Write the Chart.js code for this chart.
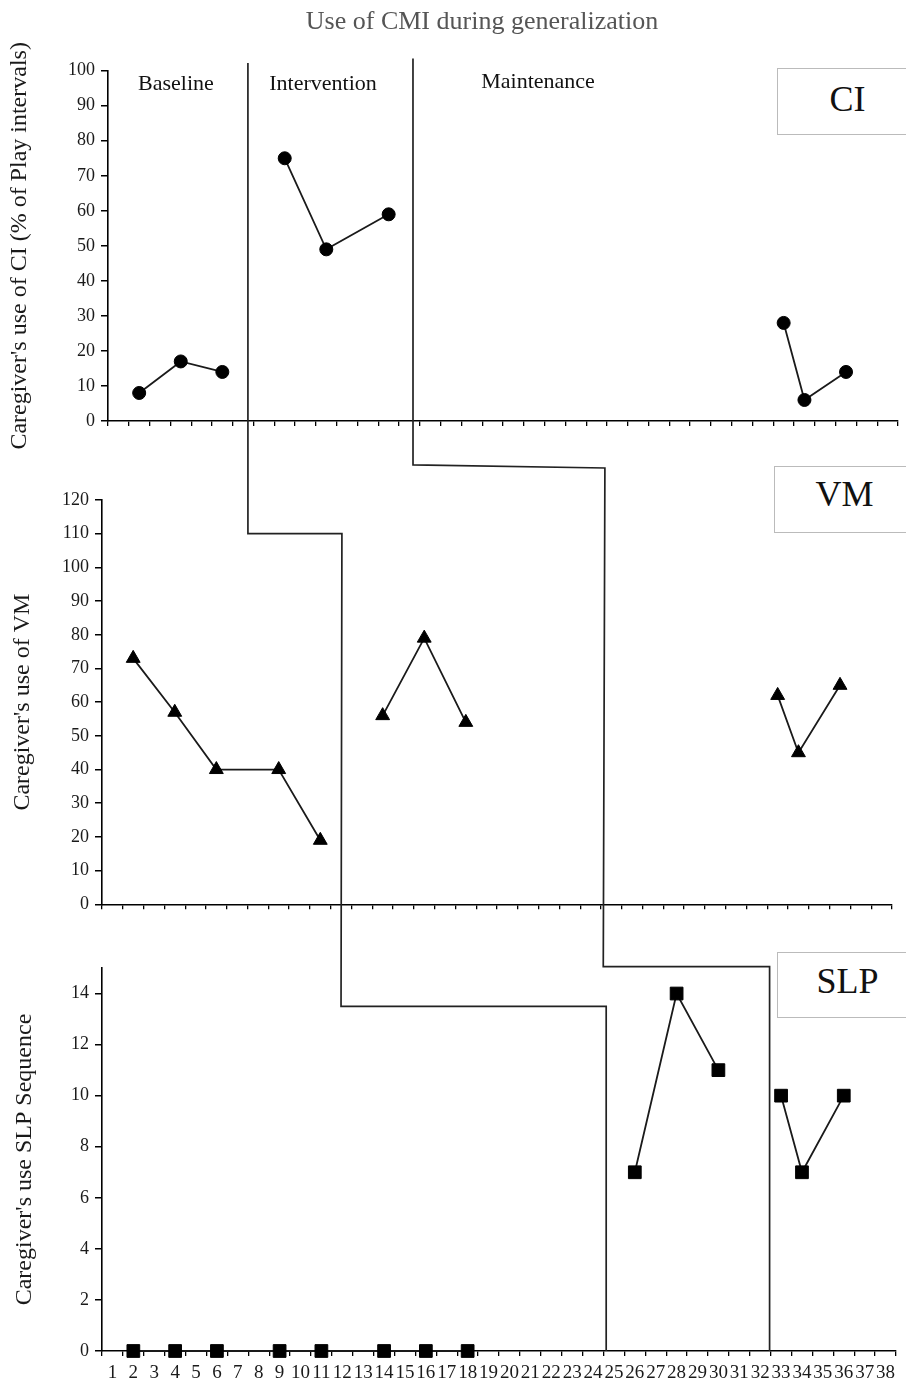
<!DOCTYPE html>
<html>
<head>
<meta charset="utf-8">
<script src="https://cdn.jsdelivr.net/npm/chart.js@4.4.1/dist/chart.umd.min.js"></script>
<style>
  html, body { margin: 0; padding: 0; background: #fff; }
  body { width: 906px; height: 1382px; position: relative; overflow: hidden; font-family: "Liberation Serif", serif; }
  canvas { position: absolute; left: 0; top: 0; }
  .note { position: absolute; white-space: nowrap; color: #111; text-align: center; }
  .title { left: 0; width: 964px; top: 6px; font-size: 26px; line-height: 30px; color: #555; }
  .phase { width: 200px; font-size: 22px; line-height: 26px; }
  .box { position: absolute; border: 1.5px solid #bbb; border-right: none; background: #fff;
         width: 140px; font-size: 36px; text-align: center; box-sizing: border-box; color: #111; }
</style>
</head>
<body>
<canvas id="ciChart" width="906" height="1382"></canvas>
<canvas id="vmChart" width="906" height="1382"></canvas>
<canvas id="slpChart" width="906" height="1382"></canvas>

<div class="note title">Use of CMI during generalization</div>
<div class="note phase" style="left:76px; top:70px;">Baseline</div>
<div class="note phase" style="left:223px; top:70px;">Intervention</div>
<div class="note phase" style="left:438px; top:68px;">Maintenance</div>
<div class="box" style="left:777px; top:68px; height:67px; line-height:60px;">CI</div>
<div class="box" style="left:774px; top:466px; height:67px; line-height:54px;">VM</div>
<div class="box" style="left:777px; top:952px; height:66px; line-height:56px;">SLP</div>

<script>
const sessions = ['1', '2', '3', '4', '5', '6', '7', '8', '9', '10',
  '11', '12', '13', '14', '15', '16', '17', '18', '19', '20',
  '21', '22', '23', '24', '25', '26', '27', '28', '29', '30',
  '31', '32', '33', '34', '35', '36', '37', '38'];

// CI (% of play intervals)
const ciBaseX = [2, 4, 6];
const ciBaseY = [8, 17, 14];
const ciInterX = [9, 11, 14];
const ciInterY = [75, 49, 59];
const ciMaintX = [33, 34, 36];
const ciMaintY = [28, 6, 14];

// VM
const vmBaseX = [2, 4, 6, 9, 11];
const vmBaseY = [73, 57, 40, 40, 19];
const vmInterX = [14, 16, 18];
const vmInterY = [56, 79, 54];
const vmMaintX = [33, 34, 36];
const vmMaintY = [62, 45, 65];

// SLP sequence
const slpBaseX = [2, 4, 6, 9, 11, 14, 16, 18];
const slpBaseY = [0, 0, 0, 0, 0, 0, 0, 0];
const slpInterX = [26, 28, 30];
const slpInterY = [7, 14, 11];
const slpMaintX = [33, 34, 36];
const slpMaintY = [10, 7, 10];

// phase change lines: [panel, session position, value on that panel's axis]
const phaseLineA = [
  ['ci', 7.23, 102.2], ['vm', 7.52, 110], ['vm', 12.04, 110],
  ['slp', 11.94, 13.5], ['slp', 24.63, 13.5], ['slp', 24.63, 0]
];
const phaseLineB = [
  ['ci', 15.17, 103.5], ['vm', 15.46, 130.4], ['vm', 24.69, 129.5],
  ['slp', 24.49, 15.05], ['slp', 32.45, 15.05], ['slp', 32.45, 0]
];

const FONT = 'Liberation Serif';
const charts = {};

function series(xs, ys, style, radius) {
  return {
    data: xs.map((x, i) => ({ x: String(x), y: ys[i] })),
    borderColor: '#1a1a1a',
    borderWidth: 1.8,
    pointStyle: style,
    pointRadius: radius,
    pointBackgroundColor: '#000',
    pointBorderColor: '#000',
    pointBorderWidth: 1,
    tension: 0,
    fill: false,
    clip: false
  };
}

function yAxis(max, step, title, titlePad, width) {
  return {
    min: 0,
    max: max,
    border: { color: '#000', width: 1.6 },
    grid: { drawOnChartArea: false, tickLength: 7, color: '#000', lineWidth: 1.5 },
    ticks: { stepSize: step, includeBounds: false, padding: 6, color: '#1a1a1a', font: { family: FONT, size: 18 } },
    title: { display: true, text: title, color: '#1a1a1a', padding: { top: titlePad, bottom: 0 }, font: { family: FONT, size: 24 } },
    afterFit: s => { s.width = width; }
  };
}

function xAxis(showLabels, height) {
  return {
    type: 'category',
    offset: true,
    border: { color: '#000', width: 1.6 },
    grid: { offset: true, drawOnChartArea: false, tickLength: 5, color: '#000', lineWidth: 1.3 },
    ticks: { display: showLabels, autoSkip: false, maxRotation: 0, minRotation: 0, padding: 6, color: '#1a1a1a', font: { family: FONT, size: 19 } },
    afterFit: s => { s.height = height; }
  };
}

function baseOptions(pad, x, y) {
  return {
    responsive: false,
    animation: false,
    devicePixelRatio: 1,
    events: [],
    layout: { padding: pad },
    plugins: { legend: { display: false }, tooltip: { enabled: false } },
    scales: { x: x, y: y }
  };
}

const phaseLinePlugin = {
  id: 'phaseLines',
  afterDraw(chart) {
    if (!charts.ci || !charts.vm) return;
    const ctx = chart.ctx;
    ctx.save();
    ctx.strokeStyle = '#222';
    ctx.lineWidth = 1.7;
    [phaseLineA, phaseLineB].forEach(line => {
      ctx.beginPath();
      line.forEach(([panel, pos, val], i) => {
        const c = panel === 'slp' ? chart : charts[panel];
        const px = c.scales.x.getPixelForValue(pos - 1);
        const py = c.scales.y.getPixelForValue(val);
        if (i === 0) ctx.moveTo(px, py); else ctx.lineTo(px, py);
      });
      ctx.stroke();
    });
    ctx.restore();
  }
};

charts.ci = new Chart(document.getElementById('ciChart'), {
  type: 'line',
  data: {
    labels: sessions,
    datasets: [
      series(ciBaseX, ciBaseY, 'circle', 6.5),
      series(ciInterX, ciInterY, 'circle', 6.5),
      series(ciMaintX, ciMaintY, 'circle', 6.5)
    ]
  },
  options: baseOptions({ left: 0, right: 8, top: 70.7, bottom: 941 },
    xAxis(false, 20),
    yAxis(100, 10, "Caregiver's use of CI (% of Play intervals)", 5, 108))
});

charts.vm = new Chart(document.getElementById('vmChart'), {
  type: 'line',
  data: {
    labels: sessions,
    datasets: [
      series(vmBaseX, vmBaseY, 'triangle', 8),
      series(vmInterX, vmInterY, 'triangle', 8),
      series(vmMaintX, vmMaintY, 'triangle', 8)
    ]
  },
  options: baseOptions({ left: 0, right: 14, top: 500, bottom: 457.7 },
    xAxis(false, 20),
    yAxis(120, 10, "Caregiver's use of VM", 8.6, 102))
});

charts.slp = new Chart(document.getElementById('slpChart'), {
  type: 'line',
  data: {
    labels: sessions,
    datasets: [
      series(slpBaseX, slpBaseY, 'rect', 9),
      series(slpInterX, slpInterY, 'rect', 9),
      series(slpMaintX, slpMaintY, 'rect', 9)
    ]
  },
  options: baseOptions({ left: 0, right: 7, top: 968, bottom: 0 },
    xAxis(true, 31),
    yAxis(15, 2, "Caregiver's use SLP Sequence", 10.6, 102)),
  plugins: [phaseLinePlugin]
});
</script>
</body>
</html>
